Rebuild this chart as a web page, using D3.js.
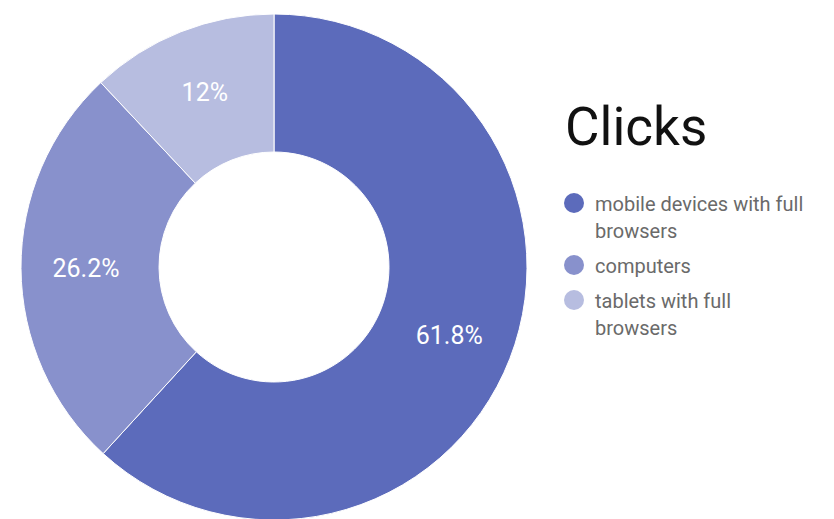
<!DOCTYPE html>
<html>
<head>
<meta charset="utf-8">
<script src="https://cdn.jsdelivr.net/npm/d3@7/dist/d3.min.js"></script>
<style>
  html, body { margin: 0; padding: 0; background: #fff; }
  svg { display: block; font-family: Roboto, "Noto Sans", sans-serif; }
</style>
</head>
<body>
<svg id="chart" width="834" height="519"></svg>
<script>
// Share of clicks by device type
const title = "Clicks";
const categories = ["mobile devices with full browsers", "computers", "tablets with full browsers"];
const values = [61.8, 26.2, 12];
const legendLines = [["mobile devices with full", "browsers"], ["computers"], ["tablets with full", "browsers"]];
const colors = ["#5c6bbb", "#8891cc", "#b7bde0"];

const svg = d3.select("#chart");
const cx = 274, cy = 267;
const outerR = 253, innerR = 115;

const pie = d3.pie().sort(null).value(d => d.value);
const arcs = pie(categories.map((c, i) => ({ name: c, value: values[i], color: colors[i] })));

const arc = d3.arc().innerRadius(innerR).outerRadius(outerR);
const labelR = (innerR + outerR) / 2 + 4;
const labelArc = d3.arc().innerRadius(labelR).outerRadius(labelR);

const g = svg.append("g").attr("transform", `translate(${cx},${cy})`);

g.selectAll("path.slice")
  .data(arcs)
  .join("path")
  .attr("class", "slice")
  .attr("d", arc)
  .attr("fill", d => d.data.color)
  .attr("stroke", "#ffffff")
  .attr("stroke-width", 1);

const fmt = v => `${+v.toFixed(1)}%`;
g.selectAll("text.pct")
  .data(arcs)
  .join("text")
  .attr("class", "pct")
  .attr("transform", d => `translate(${labelArc.centroid(d)})`)
  .attr("text-anchor", "middle")
  .attr("dy", "0.36em")
  .attr("fill", "#ffffff")
  .attr("font-size", 25)
  .text(d => fmt(d.data.value));

// Title and legend on the right
const lx = 565;
svg.append("text")
  .attr("x", lx)
  .attr("y", 145)
  .attr("font-size", 53)
  .attr("fill", "#111")
  .text(title);

let y = 211;
const lineStep = 27, itemStep = 35;
const legend = svg.append("g");
legendLines.forEach((lines, i) => {
  legend.append("circle")
    .attr("cx", lx + 9)
    .attr("cy", y - 8)
    .attr("r", 10)
    .attr("fill", colors[i]);
  const t = legend.append("text")
    .attr("x", lx + 30)
    .attr("y", y)
    .attr("font-size", 20)
    .attr("fill", "#6a6a6a");
  lines.forEach((ln, j) => {
    t.append("tspan")
      .attr("x", lx + 30)
      .attr("dy", j === 0 ? 0 : lineStep)
      .text(ln);
  });
  y += (lines.length - 1) * lineStep + itemStep;
});
</script>
</body>
</html>
